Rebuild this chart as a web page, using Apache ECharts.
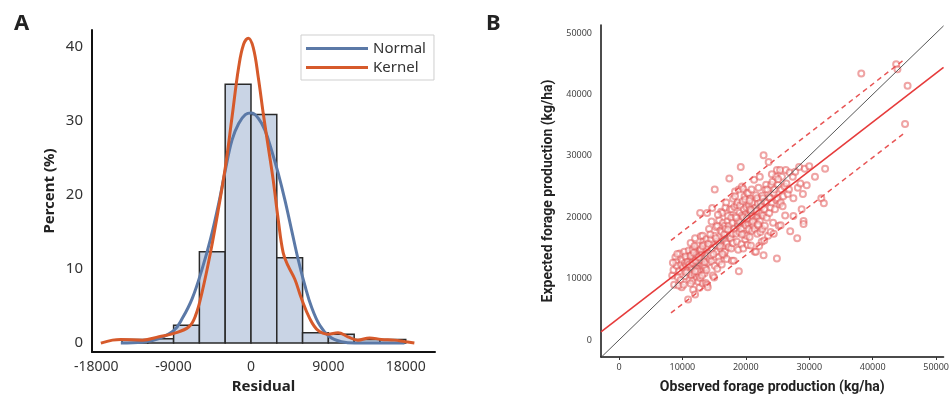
<!DOCTYPE html>
<html><head><meta charset="utf-8">
<script src="https://cdn.jsdelivr.net/npm/echarts@6/dist/echarts.min.js"></script>
<style>html,body{margin:0;padding:0;background:#fff}#c{width:952px;height:399px}</style>
</head><body><div id="c"></div>
<script>
// ---------- Panel A: residual histogram ----------
const binEdges = [-15000,-12000,-9000,-6000,-3000,0,3000,6000,9000,12000,15000,18000];
const binPercent = [0.5,0.6,2.4,12.3,34.9,30.8,11.5,1.4,1.2,0.5,0.5];
const normalCurve = [[-15140,0],[-12630,0.1],[-10700,0.6],[-8960,1.7],[-8000,3.3],[-6840,6.0],[-5680,10.0],[-4710,14.0],[-3740,18.9],[-2970,23.4],[-2200,27.4],[-1430,29.6],[-660,30.8],[40,31.0],[850,30.3],[1620,28.7],[2390,26.0],[3160,22.9],[3940,19.3],[4710,15.3],[5480,11.3],[6260,7.8],[7030,4.9],[8000,2.4],[9150,0.85],[10510,0.2],[12050,0],[17850,0]];
const kernelCurve = [[-17460,0],[-16110,0.4],[-15140,0.5],[-12630,0.4],[-10700,0.85],[-8960,1.3],[-7220,2.2],[-6450,3.7],[-5680,6.9],[-4710,12.2],[-3740,18.4],[-2970,23.8],[-2200,30.5],[-1430,37.2],[-850,40.3],[-300,41.1],[270,39.8],[850,35.8],[1430,30.9],[2000,26.5],[2580,22.0],[3160,16.7],[3740,12.2],[4320,10.4],[5100,8.6],[5870,6.0],[6840,3.3],[7800,1.7],[8960,1.2],[10120,1.4],[11270,0.85],[12430,0.4],[13790,0.7],[15140,0.5],[16690,0.4],[17850,0.2],[19000,0]];
const histXTicks = [-18000,-9000,0,9000,18000];
const histYTicks = [0,10,20,30,40];

// ---------- Panel B: observed vs expected ----------
const scatterPoints = [
[8400,10500],[8600,11400],[8700,9000],[8900,13500],[9000,12700],[9100,12100],[9300,10200],[9500,11200],[9600,14100],[9700,9800],[9800,12300],[9900,8600],[10000,13000],[8500,12600],[9200,14000],[9400,8900],
[10100,11800],[10200,9000],[10300,14400],[10400,12600],[10500,10400],[10600,12200],[10700,13300],[10800,11300],[10900,6600],[11000,12800],[11000,14600],[11100,9800],[11200,13300],[11200,11000],[11300,15800],[11400,10600],[11400,12900],[11500,11800],[11500,13900],[11600,9600],[11600,14700],[11700,8200],[11700,13300],[11800,12400],[11900,12800],[11900,10800],[12000,16600],[12000,7400],[12100,13600],[12100,11600],[12200,14900],[12200,12300],[12300,13800],[12300,10200],[12400,12800],[12400,15400],[12500,9500],[12500,13200],[12600,10600],[12600,14300],[12700,11700],[12700,8500],[12700,12500],[12800,10100],[12800,14600],[12800,20700],[12900,13000],[12900,16900],[13000,11500],[13000,13900],[13100,14100],[13100,12100],[13200,17000],[13200,9200],[13300,16000],[13300,13400],[13400,12200],[13400,14800],[13500,10900],[13500,15600],[13600,13300],[13600,11800],[13700,14900],[13700,9300],[13800,11400],[13800,16400],[13900,9000],[13900,20700],[13900,13700],[14000,8600],[14000,15200],[14000,12600],
[10500,13600],[10800,12700],[11100,12300],[11300,13700],[11600,12600],[11800,14200],[12100,12900],[12300,11600],[12600,13500],[12900,14800],[13200,15300],[13500,12700],[10600,11000],[11900,15300],[12400,11200],[13100,10500],[11300,9200],[12000,11200],
[14100,15700],[14200,18100],[14300,13200],[14500,16500],[14500,13800],[14600,12800],[14700,14900],[14700,21500],[14800,10500],[15000,17000],[15000,10200],[15100,24500],[15100,12100],[15200,15500],[15300,18400],[15400,14400],[15500,18600],[15500,11600],[15600,16000],[15700,13500],[15800,12800],[15800,19500],[16000,14900],[16000,17800],[16100,20900],[16200,17600],[16200,12300],[16300,20700],[16400,19100],[16400,15300],[16500,16500],[16600,13800],[16700,14400],[16700,18600],[16800,18100],[16800,21600],[16900,22400],[16900,16000],[17000,15700],[17000,13200],[17100,19400],[17200,20200],[17300,18600],[17300,15100],[17400,26300],[17500,17000],[17500,21300],[17600,16600],[17700,14900],[17700,19900],[17800,21300],[17800,12900],[17900,19100],[17900,17300],[18000,23000],[18000,15800],
[14400,17200],[14900,14000],[15300,16600],[15900,15300],[16600,17200],[17200,18000],[14600,19300],[15600,20400],[16300,14000],
[18100,12900],[18200,18100],[18200,21700],[18300,24200],[18300,23400],[18400,20200],[18500,17300],[18600,16000],[18600,22000],[18700,22400],[18700,19200],[18800,18600],[18800,14700],[18900,24500],[18900,11200],[19000,20700],[19000,17600],[19100,21900],[19200,28200],[19200,19700],[19300,18100],[19300,15600],[19400,25000],[19400,20300],[19500,22600],[19600,14900],[19600,24600],[19700,21300],[19700,17300],[19800,19100],[19800,23400],[19900,22900],[19900,16400],[20000,20500],[20000,18700],[20100,17000],[20100,21600],[20200,24000],[20300,20200],[20300,15500],[20400,23900],[20400,19000],[20500,18100],[20500,21900],[20600,21300],[20600,16800],[20700,19700],[20700,23000],[20800,15400],[20800,20800],[20900,19100],[20900,24500],[21000,22400],[21000,17800],[21100,20200],[21200,18600],[21300,26100],[21300,21100],[21400,18100],[21400,14400],[21500,21500],[21500,19600],[21600,14400],[21600,23600],[21700,20000],[21800,23100],[21800,17300],[21900,20200],[21900,22200],[22000,18600],[22000,24800],[22100,20700],[22200,26600],[22200,19400],[22300,22400],[22300,17600],[22400,20700],[22500,21800],[22500,16000],[22600,18100],[22600,23500],[22700,23100],[22700,20300],[22800,30100],[22800,13800],[22900,21300],[22900,16200],[23000,18600],[23000,22500],
[19000,19300],[19600,20000],[20200,19800],[20800,21200],[21100,19300],[21700,21000],[19400,17200],[20600,22700],[21900,18800],[18500,19900],[22100,15300],
[23100,24500],[23200,25300],[23300,22400],[23300,19900],[23400,24500],[23500,17000],[23600,29000],[23700,20700],[23700,23300],[23800,23100],[23900,17600],[23900,21600],[24000,25300],[24100,22400],[24200,25800],[24300,19100],[24400,17300],[24400,24000],[24500,24500],[24600,21300],[24700,26600],[24800,22800],[24900,13300],[24900,27700],[25000,23100],[25100,25300],[25200,18600],[25300,22100],[25400,27700],[25500,22400],[25500,18700],[25600,24500],[25700,26600],[25800,21800],[25900,23400],[26100,25000],[26300,27700],[26400,25500],[26600,23800],[26800,24500],[27000,17700],[26200,20300],[25100,26200],[24100,27000],[26900,27300],
[27400,26600],[27500,20200],[27500,23100],[27800,27400],[28100,16600],[28200,24800],[28400,28200],[28600,25500],[29000,23800],[29100,19400],[29100,18900],[29300,27900],[29600,25200],[30000,28300],[30900,26600],[31900,23100],[32300,22300],[32500,27900],[28800,21300],
[38200,43400],[43700,44900],[43900,44100],[45500,41400],[45100,35200]
];
const identityLine = [[-2830,-2830],[51170,51170]];
const regressionLine = [[-2830,1340],[51170,44400]];
const upperBand = [[8200,16220],[45000,45700]];
const lowerBand = [[8200,4420],[45100,33800]];
const scatterXTicks = [0,10000,20000,30000,40000,50000];
const scatterYTicks = [0,10000,20000,30000,40000,50000];

const histBins = binPercent.map((p,i)=>[binEdges[i], binEdges[i+1], p]);
const FONT = "'Noto Sans', 'Liberation Sans', sans-serif";
const plain = v => String(v);

const chart = echarts.init(document.getElementById('c'), null, {renderer:'canvas'});
chart.setOption({
  animation:false,
  backgroundColor:'#fff',
  textStyle:{fontFamily:FONT},
  title:[
    {text:'A', left:9, top:8, textStyle:{fontSize:22, fontWeight:'bold', color:'#222', fontFamily:FONT}},
    {text:'B', left:481, top:8, textStyle:{fontSize:22, fontWeight:'bold', color:'#222', fontFamily:FONT}}
  ],
  legend:{
    data:['Normal','Kernel'], orient:'vertical', left:301, top:35,
    icon:'rect', itemWidth:62, itemHeight:3, itemGap:4,
    padding:[6,8,5,5], borderColor:'#cfcfcf', borderWidth:1,
    textStyle:{fontSize:15, color:'#333', fontFamily:FONT}
  },
  grid:[
    {left:92, top:30, width:343, height:325},
    {left:601, top:25, width:351, height:339}
  ],
  xAxis:[
    {type:'value', gridIndex:0, min:-18490, max:21400,
     axisLine:{onZero:false, lineStyle:{color:'#111', width:2}}, axisTick:{show:false}, splitLine:{show:false},
     axisLabel:{customValues:histXTicks, formatter:plain, fontSize:14, color:'#333', margin:8},
     name:'Residual', nameLocation:'middle', nameGap:27,
     nameTextStyle:{fontSize:15, fontWeight:'bold', color:'#222'}},
    {type:'value', gridIndex:1, min:-2830, max:51170,
     axisLine:{onZero:false, lineStyle:{color:'#111', width:1.5}},
     axisTick:{show:true, length:3, customValues:scatterXTicks, lineStyle:{color:'#333'}},
     splitLine:{show:false},
     axisLabel:{customValues:scatterXTicks, formatter:plain, fontSize:9, color:'#444', margin:6},
     name:'Observed forage production (kg/ha)', nameLocation:'middle', nameGap:23,
     nameTextStyle:{fontSize:14, fontWeight:'bold', color:'#222', fontFamily:'Roboto'}}
  ],
  yAxis:[
    {type:'value', gridIndex:0, min:-1.2, max:42.2,
     axisLine:{show:true, onZero:false, lineStyle:{color:'#111', width:2}}, axisTick:{show:false}, splitLine:{show:false},
     axisLabel:{customValues:histYTicks, formatter:plain, fontSize:15, color:'#333', margin:9},
     name:'Percent (%)', nameLocation:'middle', nameGap:35, nameRotate:90,
     nameTextStyle:{fontSize:15, fontWeight:'bold', color:'#222'}},
    {type:'value', gridIndex:1, min:-2760, max:51310,
     axisLine:{show:true, onZero:false, lineStyle:{color:'#111', width:1.5}}, axisTick:{show:false}, splitLine:{show:false},
     axisLabel:{customValues:scatterYTicks, formatter:plain, fontSize:9, color:'#444', margin:9},
     name:'Expected forage production (kg/ha)', nameLocation:'middle', nameGap:46, nameRotate:90,
     nameTextStyle:{fontSize:14, fontWeight:'bold', color:'#222', fontFamily:'Roboto'}}
  ],
  series:[
    {type:'custom', name:'Histogram', xAxisIndex:0, yAxisIndex:0, data:histBins,
     encode:{x:[0,1], y:2}, z:1,
     renderItem:function(params, api){
       const p0 = api.coord([api.value(0), api.value(2)]);
       const p1 = api.coord([api.value(1), 0]);
       return {type:'rect', shape:{x:p0[0], y:p0[1], width:p1[0]-p0[0], height:p1[1]-p0[1]},
               style:{fill:'#c9d4e5', stroke:'#2a2a2a', lineWidth:1.5}};
     }},
    {type:'line', name:'Normal', xAxisIndex:0, yAxisIndex:0, data:normalCurve, smooth:0.4,
     showSymbol:false, symbol:'none', z:3, lineStyle:{color:'#5b79a7', width:3}, itemStyle:{color:'#5b79a7'}},
    {type:'line', name:'Kernel', xAxisIndex:0, yAxisIndex:0, data:kernelCurve, smooth:0.4,
     showSymbol:false, symbol:'none', z:4, lineStyle:{color:'#d65a2b', width:3}, itemStyle:{color:'#d65a2b'}},
    {type:'scatter', name:'Points', xAxisIndex:1, yAxisIndex:1, data:scatterPoints,
     symbol:'emptyCircle', symbolSize:6, z:2,
     itemStyle:{color:'#e25a5a', borderColor:'#e25a5a', borderWidth:0.7, opacity:0.55}},
    {type:'line', name:'Identity', xAxisIndex:1, yAxisIndex:1, data:identityLine, symbol:'none', z:3,
     lineStyle:{color:'#555', width:1}},
    {type:'line', name:'Regression', xAxisIndex:1, yAxisIndex:1, data:regressionLine, symbol:'none', z:4,
     lineStyle:{color:'#e63b3b', width:1.6}},
    {type:'line', name:'Upper', xAxisIndex:1, yAxisIndex:1, data:upperBand, symbol:'none', z:4,
     lineStyle:{color:'#e85555', width:1.5, type:[5,4]}},
    {type:'line', name:'Lower', xAxisIndex:1, yAxisIndex:1, data:lowerBand, symbol:'none', z:4,
     lineStyle:{color:'#e85555', width:1.5, type:[5,4]}}
  ]
});
</script>
</body></html>
